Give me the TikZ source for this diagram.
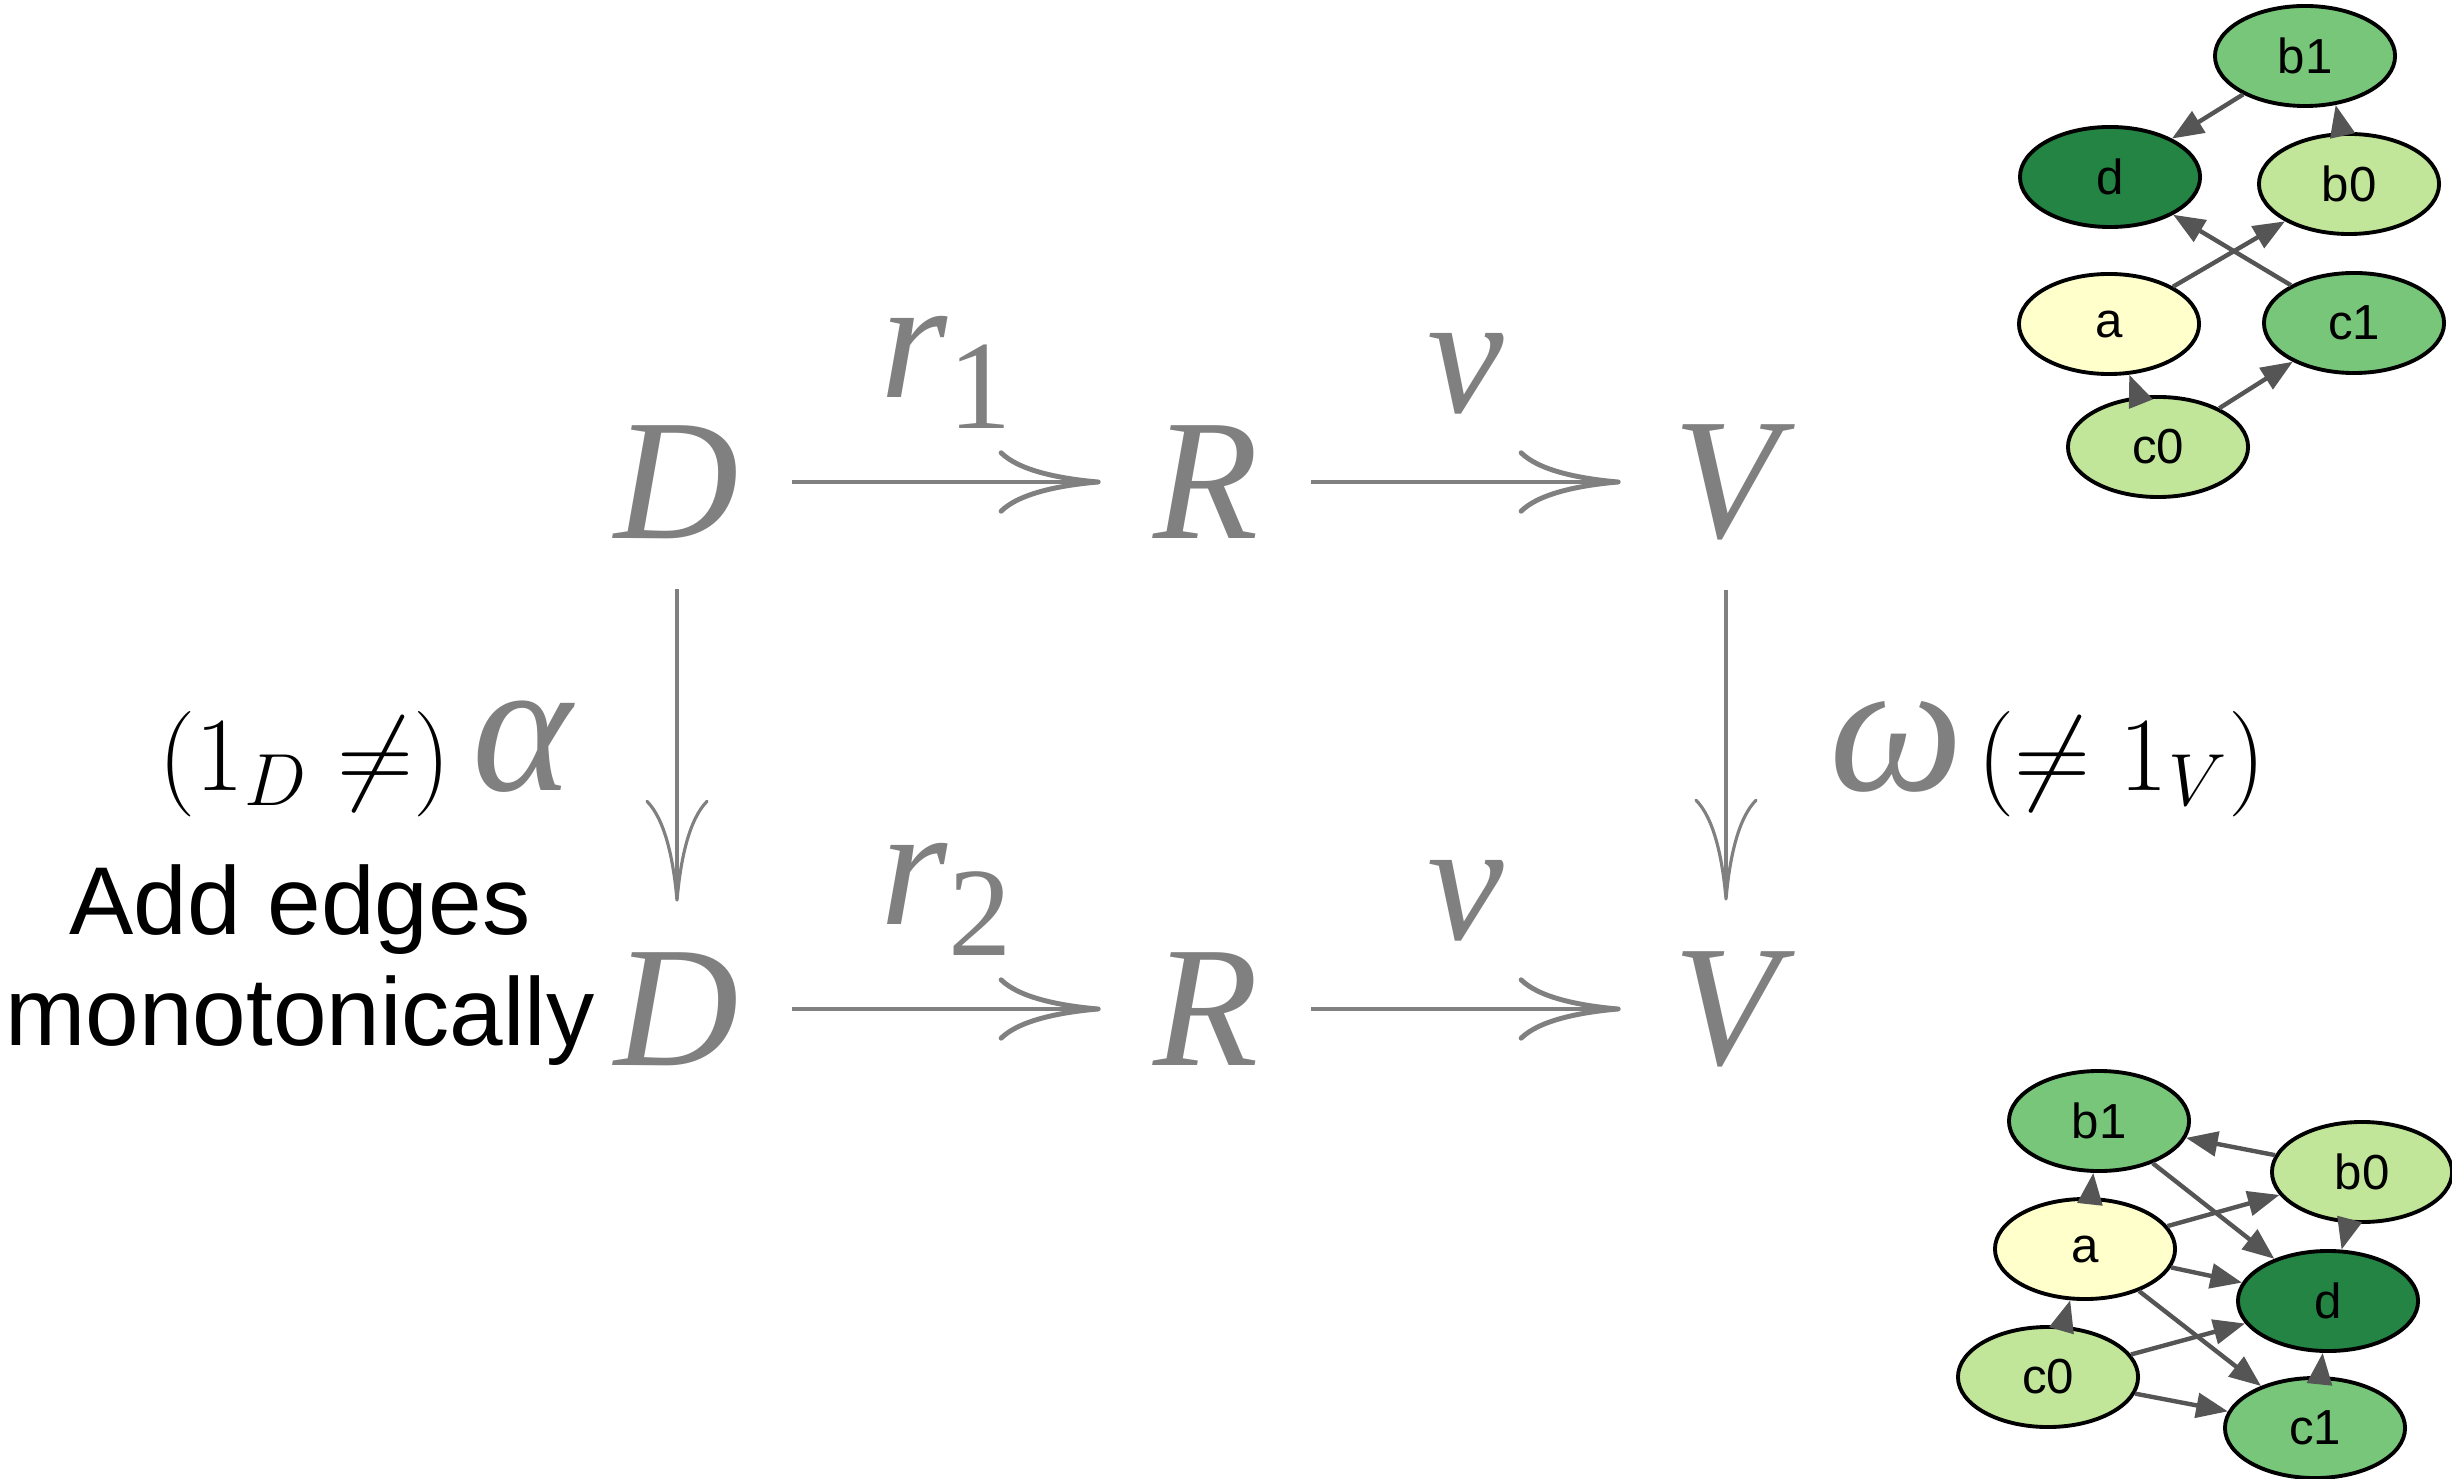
\RequirePackage{fix-cm}
\documentclass[tikz,border=0pt]{standalone}
\usepackage{amsmath,amssymb}
\usepackage{fontspec}
\setsansfont{Liberation Sans}
\newfontfamily\timesit{Liberation Serif}
\usepackage{xcolor}
\usepackage{tikz}
\usetikzlibrary{shapes.geometric}
\usetikzlibrary{arrows.meta}
\usetikzlibrary{positioning}

\definecolor{diagray}{HTML}{808080}
\definecolor{edgegray}{HTML}{555555}
\definecolor{ylgnA}{HTML}{FFFFCC}
\definecolor{ylgnB}{HTML}{C2E699}
\definecolor{ylgnC}{HTML}{78C679}
\definecolor{ylgnD}{HTML}{238443}

\newcommand{\obj}[1]{{\timesit\itshape #1}}
\newcommand{\mapsub}[2]{{\timesit\itshape #1\/}\raisebox{-8.8pt}{\timesit\upshape\fontsize{36}{38}\selectfont #2}}

\begin{document}
\begin{tikzpicture}[x=0.01cm,y=0.01cm,
          obj/.style={text=diagray,font=\fontsize{49}{52}\selectfont,inner xsep=0.52cm,inner ysep=0.5cm},
          maplbl/.style={text=diagray,font=\fontsize{49}{52}\selectfont,anchor=base,yshift=0.84cm,inner sep=0pt},
          mapto/.style={diagray,line width=1.4pt,-{Computer Modern Rightarrow[length=29pt,width=18pt]}},
          vmap/.style={mapto,line width=0.9pt},
          bigsym/.style={text=diagray,font=\timesit\itshape\fontsize{54}{56}\selectfont,anchor=base,inner sep=0pt},
          idlbl/.style={font=\fontsize{30}{32}\selectfont,inner sep=0pt},
          note/.style={align=center,font=\sffamily\fontsize{27.4}{31.6}\selectfont,inner sep=0pt},
          gnode/.style={ellipse,draw,line width=1.1pt,minimum width=1.8cm,minimum height=1cm,inner sep=0pt,font=\sffamily\fontsize{14}{16}\selectfont},
          gedge/.style={edgegray,line width=1.25pt,-{Triangle[length=9pt,width=7pt]}}]
          \useasboundingbox (0,0) rectangle (2452,1478);

          % square
          \node[obj](D1) at (677,996){\obj{D}};
          \node[obj](R1) at (1206,996){\obj{R}};
          \node[obj](V1) at (1726,996){\obj{V}};
          \node[obj](D2) at (677,469){\obj{D}};
          \node[obj](R2) at (1206,469){\obj{R}};
          \node[obj](V2) at (1726,469){\obj{V}};
          \draw[mapto](D1)--node[maplbl]{\mapsub{r}{1}}(R1);
          \draw[mapto](R1)--node[maplbl,yshift=-0.15cm]{\obj{v}}(V1);
          \draw[mapto](D2)--node[maplbl]{\mapsub{r}{2}}(R2);
          \draw[mapto](R2)--node[maplbl,yshift=-0.15cm]{\obj{v}}(V2);
          \draw[vmap](D1)--(D2); \draw[vmap](V1)--(V2);

          % side labels
          \node[bigsym](alpha) at (522,688){α};
          \node[idlbl,base left=0.2cm of alpha](idD){$(1_D\neq)$};
          \node[bigsym](omega) at (1897,688){ω};
          \node[idlbl,base right=0.12cm of omega](idV){$(\neq 1_V)$};
          \node[note](addnote) at (300,513){Add edges\\monotonically};

          % graph before
          \node[gnode,fill=ylgnC](tb1) at (2305,1422){b1};
          \node[gnode,fill=ylgnD](td) at (2110,1301){d};
          \node[gnode,fill=ylgnB](tb0) at (2349,1294){b0};
          \node[gnode,fill=ylgnA](ta) at (2109,1154){a};
          \node[gnode,fill=ylgnC](tc1) at (2354,1155){c1};
          \node[gnode,fill=ylgnB](tc0) at (2158,1031){c0};
          \draw[gedge](tb1)--(td); \draw[gedge](tb0.98)--(tb1.-58);
          \draw[gedge](ta)--(tb0); \draw[gedge](tc1)--(td);
          \draw[gedge](tc0)--(ta); \draw[gedge](tc0)--(tc1);

          % graph after
          \node[gnode,fill=ylgnC](bb1) at (2099,357){b1};
          \node[gnode,fill=ylgnB](bb0) at (2362,306){b0};
          \node[gnode,fill=ylgnA](ba) at (2085,229){a};
          \node[gnode,fill=ylgnD](bd) at (2328,177){d};
          \node[gnode,fill=ylgnB](bc0) at (2048,101){c0};
          \node[gnode,fill=ylgnC](bc1) at (2315,50){c1};
          \draw[gedge](bb0)--(bb1); \draw[gedge](ba)--(bb1);
          \draw[gedge](bb1)--(bd); \draw[gedge](ba)--(bb0);
          \draw[gedge](bb0)--(bd); \draw[gedge](ba)--(bd);
          \draw[gedge](ba)--(bc1); \draw[gedge](bc0)--(ba);
          \draw[gedge](bc0)--(bd); \draw[gedge](bc0)--(bc1);
          \draw[gedge](bc1)--(bd);
        \end{tikzpicture}
\end{document}
